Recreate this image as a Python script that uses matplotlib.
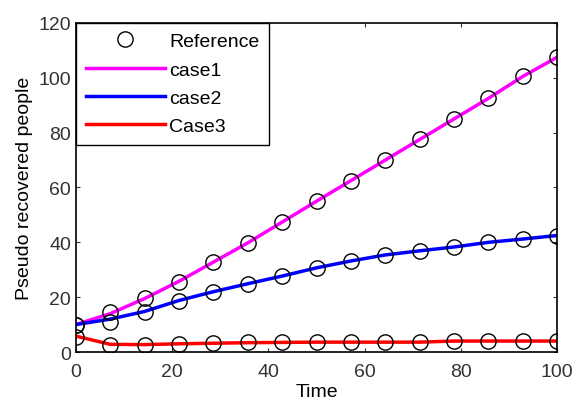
import numpy as np
import matplotlib
matplotlib.use("Agg")
import matplotlib.pyplot as plt

plt.rcParams['font.family'] = ['Liberation Sans', 'DejaVu Sans']

# sample times (15 points over 0..100)
time = np.linspace(0, 100, 15)

# curves
case1 = [10, 14, 19.5, 25.8, 32.8, 39.8, 47.4, 55, 62.5, 70, 77.5, 85, 92.5, 100.5, 107.5]
case2 = [10, 12, 14.8, 18.8, 22, 24.9, 27.7, 30.7, 33.2, 35.4, 36.9, 38.3, 40, 41.2, 42.5]
case3 = [5.8, 2.8, 2.7, 3.0, 3.2, 3.4, 3.5, 3.6, 3.6, 3.6, 3.6, 4.0, 4.0, 4.0, 4.0]

# reference markers
ref1 = [10, 14.5, 19.7, 25.6, 32.8, 39.8, 47.4, 55, 62.5, 70, 77.5, 85, 92.5, 100.7, 107.6]
ref2 = [10, 11, 14.5, 18.6, 21.9, 24.8, 27.7, 30.7, 33.2, 35.4, 36.9, 38.3, 40.1, 41.2, 42.3]
ref3 = [5.5, 2.6, 2.6, 3.0, 3.2, 3.5, 3.5, 3.6, 3.6, 3.7, 3.7, 4.0, 4.0, 4.0, 4.0]

fig = plt.figure(figsize=(5.75, 4.06), dpi=100)
ax = fig.add_axes([0.132, 0.1305, 0.837, 0.8105])

l1, = ax.plot(time, case1, color='#ff00ff', lw=2.5, label='case1')
l2, = ax.plot(time, case2, color='#0000ff', lw=2.5, label='case2')
l3, = ax.plot(time, case3, color='#ff0000', lw=2.5, label='Case3')
for r in (ref1, ref2, ref3):
    m, = ax.plot(time, r, 'o', mfc='none', mec='black', ms=11, mew=1, label='Reference')

ax.set_xlim(0, 100)
ax.set_ylim(0, 120)
ax.set_xticks(range(0, 101, 20))
ax.set_yticks(range(0, 121, 20))
ax.tick_params(direction='in', top=True, right=True, labelsize=14, length=3, colors='#333333')
ax.tick_params(axis='x', pad=8)
for s in ax.spines.values():
    s.set_linewidth(1.2)
ax.set_xlabel('Time', fontsize=14, labelpad=2)
ax.set_ylabel('Pseudo recovered people', fontsize=14, labelpad=4)

leg = ax.legend([m, l1, l2, l3], ['Reference', 'case1', 'case2', 'Case3'],
                loc='upper left', fontsize=14, handlelength=4.1, handletextpad=0.2,
                borderaxespad=0, fancybox=False, framealpha=1, edgecolor='black',
                labelspacing=0.55, borderpad=0.5)
leg.get_frame().set_linewidth(1.0)

fig.savefig('out.png', dpi=100)
